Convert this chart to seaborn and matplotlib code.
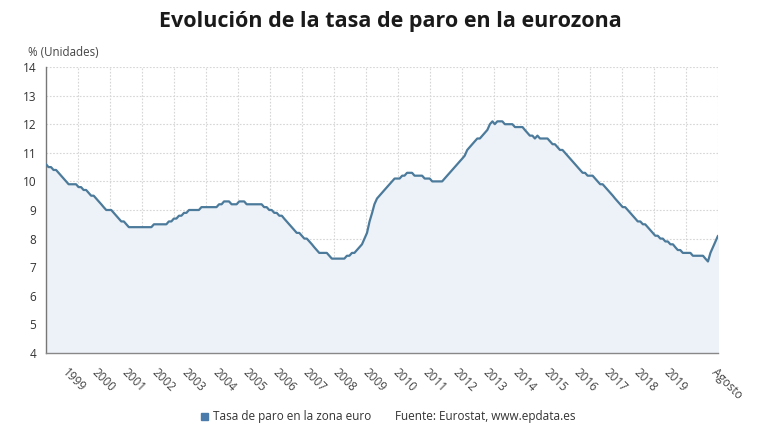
import numpy as np
import pandas as pd
import seaborn as sns
import matplotlib.pyplot as plt
import matplotlib.dates as mdates

# Monthly euro area unemployment rate (%), Apr 1998 - Aug 2020
rate_1998 = [10.6, 10.5, 10.5, 10.4, 10.4, 10.3, 10.2, 10.1, 10.0]  # Apr-Dec
rate_1999 = [9.9, 9.9, 9.9, 9.9, 9.8, 9.8, 9.7, 9.7, 9.6, 9.5, 9.5, 9.4]
rate_2000 = [9.3, 9.2, 9.1, 9.0, 9.0, 9.0, 8.9, 8.8, 8.7, 8.6, 8.6, 8.5]
rate_2001 = [8.4, 8.4, 8.4, 8.4, 8.4, 8.4, 8.4, 8.4, 8.4, 8.4, 8.5, 8.5]
rate_2002 = [8.5, 8.5, 8.5, 8.5, 8.6, 8.6, 8.7, 8.7, 8.8, 8.8, 8.9, 8.9]
rate_2003 = [9.0, 9.0, 9.0, 9.0, 9.0, 9.1, 9.1, 9.1, 9.1, 9.1, 9.1, 9.1]
rate_2004 = [9.2, 9.2, 9.3, 9.3, 9.3, 9.2, 9.2, 9.2, 9.3, 9.3, 9.3, 9.2]
rate_2005 = [9.2, 9.2, 9.2, 9.2, 9.2, 9.2, 9.1, 9.1, 9.0, 9.0, 8.9, 8.9]
rate_2006 = [8.8, 8.8, 8.7, 8.6, 8.5, 8.4, 8.3, 8.2, 8.2, 8.1, 8.0, 8.0]
rate_2007 = [7.9, 7.8, 7.7, 7.6, 7.5, 7.5, 7.5, 7.5, 7.4, 7.3, 7.3, 7.3]
rate_2008 = [7.3, 7.3, 7.3, 7.4, 7.4, 7.5, 7.5, 7.6, 7.7, 7.8, 8.0, 8.2]
rate_2009 = [8.6, 8.9, 9.2, 9.4, 9.5, 9.6, 9.7, 9.8, 9.9, 10.0, 10.1, 10.1]
rate_2010 = [10.1, 10.2, 10.2, 10.3, 10.3, 10.3, 10.2, 10.2, 10.2, 10.2, 10.1, 10.1]
rate_2011 = [10.1, 10.0, 10.0, 10.0, 10.0, 10.0, 10.1, 10.2, 10.3, 10.4, 10.5, 10.6]
rate_2012 = [10.7, 10.8, 10.9, 11.1, 11.2, 11.3, 11.4, 11.5, 11.5, 11.6, 11.7, 11.8]
rate_2013 = [12.0, 12.1, 12.0, 12.1, 12.1, 12.1, 12.0, 12.0, 12.0, 12.0, 11.9, 11.9]
rate_2014 = [11.9, 11.9, 11.8, 11.7, 11.6, 11.6, 11.5, 11.6, 11.5, 11.5, 11.5, 11.5]
rate_2015 = [11.4, 11.3, 11.3, 11.2, 11.1, 11.1, 11.0, 10.9, 10.8, 10.7, 10.6, 10.5]
rate_2016 = [10.4, 10.3, 10.3, 10.2, 10.2, 10.2, 10.1, 10.0, 9.9, 9.9, 9.8, 9.7]
rate_2017 = [9.6, 9.5, 9.4, 9.3, 9.2, 9.1, 9.1, 9.0, 8.9, 8.8, 8.7, 8.6]
rate_2018 = [8.6, 8.5, 8.5, 8.4, 8.3, 8.2, 8.1, 8.1, 8.0, 8.0, 7.9, 7.9]
rate_2019 = [7.8, 7.8, 7.7, 7.6, 7.6, 7.5, 7.5, 7.5, 7.5, 7.4, 7.4, 7.4]
rate_2020 = [7.4, 7.4, 7.3, 7.2, 7.5, 7.7, 7.9, 8.1]  # Jan-Aug

year_labels = [str(y) for y in range(1999, 2020)] + ["Agosto"]

rates = (rate_1998 + rate_1999 + rate_2000 + rate_2001 + rate_2002 + rate_2003
         + rate_2004 + rate_2005 + rate_2006 + rate_2007 + rate_2008 + rate_2009
         + rate_2010 + rate_2011 + rate_2012 + rate_2013 + rate_2014 + rate_2015
         + rate_2016 + rate_2017 + rate_2018 + rate_2019 + rate_2020)
dates = pd.date_range("1998-04-01", periods=len(rates), freq="MS")
df = pd.DataFrame({"fecha": dates, "tasa": rates})

sns.set_style("white")
plt.rcParams['font.family'] = ['Open Sans', 'DejaVu Sans']

line_color = "#4b7a9b"
fig = plt.figure(figsize=(7.8, 4.4), dpi=100)
ax = fig.add_axes([46 / 780, 87 / 440, 672 / 780, 286 / 440])

ax.fill_between(df["fecha"], df["tasa"], 4, color="#edf1f8", zorder=1)
sns.lineplot(data=df, x="fecha", y="tasa", color=line_color, linewidth=1.6, ax=ax, zorder=3)

ax.set_xlim(dates[0], dates[-1])
ax.set_ylim(4, 14)
ax.set_xlabel("")
ax.set_ylabel("")

# y axis
ax.set_yticks(range(4, 15))
ax.tick_params(axis="y", length=3, width=0.8, color="#666666", labelsize=8.5,
               labelcolor="#333333", pad=4)
for y in range(5, 15):
    ax.axhline(y, color="#d6d6d6", lw=0.8, ls=(0, (1.5, 1.5)), zorder=0)

# vertical grid: 21 equal divisions of the x axis
x0, x1 = mdates.date2num(dates[0]), mdates.date2num(dates[-1])
for gx in np.linspace(x0, x1, 22)[1:]:
    ax.axvline(gx, color="#d6d6d6", lw=0.8, ls=(0, (1.5, 1.5)), zorder=0)

# x ticks: January of each year plus the last month
tick_dates = [pd.Timestamp(f"{y}-01-01") for y in range(1999, 2020)] + [dates[-1]]
ax.set_xticks(tick_dates)
ax.set_xticklabels(year_labels, rotation=-45, ha="left", va="top",
                   rotation_mode="anchor", fontsize=8.5, color="#444444")
ax.tick_params(axis="x", length=3, width=0.8, color="#666666", pad=6)

for s in ["top", "right"]:
    ax.spines[s].set_visible(False)
ax.spines["left"].set_color("#777777")
ax.spines["left"].set_linewidth(1.0)
ax.spines["bottom"].set_color("#888888")
ax.spines["bottom"].set_linewidth(1.0)

fig.text(0.5, 1 - 22 / 440, "Evolución de la tasa de paro en la eurozona",
         ha="center", va="center", fontsize=15.5, fontweight="bold", color="#1a1a1a")
fig.text(28 / 780, 1 - 52 / 440, "% (Unidades)", ha="left", va="center",
         fontsize=8.3, color="#444444")

# legend / source line
fig.patches.append(plt.Rectangle((201 / 780, 1 - 420 / 440), 7 / 780, 7 / 440,
                                 transform=fig.transFigure, color="#4a7bab"))
fig.text(213 / 780, 1 - 416 / 440, "Tasa de paro en la zona euro", ha="left",
         va="center", fontsize=8.5, color="#333333")
fig.text(395 / 780, 1 - 416 / 440, "Fuente: Eurostat, www.epdata.es", ha="left",
         va="center", fontsize=8.5, color="#333333")

fig.savefig("out.png", dpi=100, facecolor="white")
